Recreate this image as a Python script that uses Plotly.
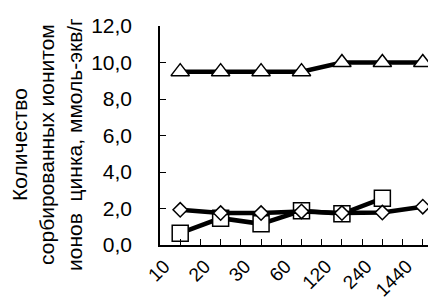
import plotly.graph_objects as go

categories = ["10", "20", "30", "60", "120", "240", "1440"]
triangle_vals = [9.5, 9.5, 9.5, 9.5, 10.0, 10.0, 10.0]
square_vals = [0.65, 1.47, 1.16, 1.87, 1.71, 2.56, None]
diamond_vals = [1.93, 1.75, 1.75, 1.84, 1.75, 1.78, 2.1]
y_ticks = [0, 2, 4, 6, 8, 10, 12]

FONT = "Liberation Sans, Arial, sans-serif"
xpos = list(range(len(categories)))

fig = go.Figure()

def add(vals, symbol, size):
    fig.add_trace(go.Scatter(
        x=xpos, y=vals, mode="lines+markers",
        line=dict(color="black", width=4.5),
        marker=dict(symbol=symbol, size=size, color="white",
                    line=dict(color="black", width=1.5)),
        connectgaps=False, showlegend=False, cliponaxis=False,
    ))

add(triangle_vals, "triangle-up", 16)
add(square_vals, "square", 16)
add(diamond_vals, "diamond", 11)

fig.update_layout(
    width=436, height=300,
    margin=dict(l=152, r=1, t=18, b=63, autoexpand=False),
    paper_bgcolor="white", plot_bgcolor="white",
    separators=", ",
    font=dict(family=FONT, size=20, color="black"),
    xaxis=dict(
        range=[-0.5, len(categories) - 0.5], tickvals=xpos, ticktext=categories,
        ticks="inside", ticklen=6, tickcolor="black", tickwidth=1.2,
        minor=dict(tick0=-0.5, dtick=1, ticks="inside", ticklen=6,
                   tickcolor="black", tickwidth=1.2, showgrid=False),
        showline=True, linecolor="black", linewidth=1.5,
        showgrid=False, tickangle=-45, tickfont=dict(size=19), zeroline=False,
        ticklabelshift=-16, ticklabelstandoff=1,
    ),
    yaxis=dict(
        range=[0, 12], tickvals=y_ticks, tickformat=".1f", ticks="inside",
        ticklen=6, tickcolor="black", tickwidth=1.2, showline=True, linecolor="black",
        linewidth=1.5, showgrid=False, zeroline=False, tickfont=dict(size=21),
        ticklabelstandoff=22,
    ),
    annotations=[dict(
        text="Количество<br>сорбированных ионитом<br>ионов  цинка, ммоль-экв/г",
        textangle=-90, x=0, y=0.457, xref="paper", yref="paper",
        xanchor="center", yanchor="middle", showarrow=False, align="center",
        font=dict(size=21, family=FONT),
    )],
)
pw = 436 - 152 - 1
fig.layout.annotations[0].x = (39 - 152) / pw

fig.write_html("out.html")
